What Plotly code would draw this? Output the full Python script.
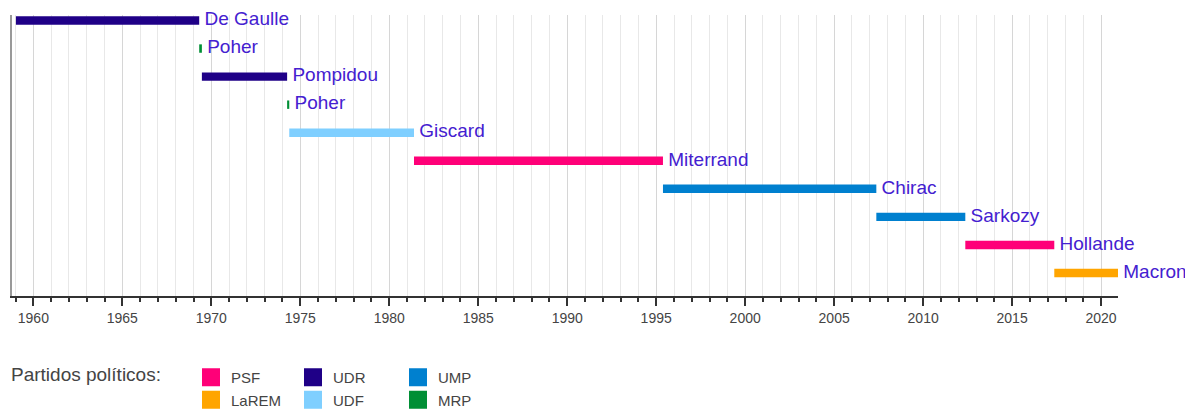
import plotly.graph_objects as go

# Presidentes da V República francesa
presidentes = ['De Gaulle', 'Poher', 'Pompidou', 'Poher', 'Giscard',
               'Miterrand', 'Chirac', 'Sarkozy', 'Hollande', 'Macron']
inicio = [1959.02, 1969.32, 1969.47, 1974.26, 1974.38,
          1981.39, 1995.38, 2007.37, 2012.37, 2017.37]
fim = [1969.32, 1969.47, 1974.26, 1974.38, 1981.39,
       1995.38, 2007.37, 2012.37, 2017.37, 2020.95]
partido = ['UDR', 'MRP', 'UDR', 'MRP', 'UDF',
           'PSF', 'UMP', 'UMP', 'PSF', 'LaREM']

# ordem da legenda: coluna por coluna
partidos = ['PSF', 'LaREM', 'UDR', 'UDF', 'UMP', 'MRP']
cores = {
    'PSF': '#ff0078',
    'LaREM': '#ffa500',
    'UDR': '#1f0087',
    'UDF': '#7fcfff',
    'UMP': '#0080cf',
    'MRP': '#008f35',
}
legenda_coluna = {'PSF': 'legend', 'LaREM': 'legend',
                  'UDR': 'legend2', 'UDF': 'legend2',
                  'UMP': 'legend3', 'MRP': 'legend3'}

# a página tem 8px de margem, então a figura fica um pouco menor
W, H = 1185, 401
linhas = list(range(len(presidentes)))

fig = go.Figure()

for p in partidos:
    idx = [i for i in linhas if partido[i] == p]
    fig.add_trace(go.Bar(
        orientation='h',
        y=[linhas[i] for i in idx],
        base=[inicio[i] for i in idx],
        x=[fim[i] - inicio[i] for i in idx],
        width=0.3,
        marker=dict(color=cores[p], line=dict(width=0)),
        showlegend=False,
        hoverinfo='skip',
    ))

# nomes ao lado das barras
fig.add_trace(go.Scatter(
    x=fim, y=linhas, mode='text', text=[' ' + n for n in presidentes],
    textposition='middle right',
    textfont=dict(family='Liberation Sans, Arial, sans-serif', size=19, color='#4420d0'),
    showlegend=False, hoverinfo='skip', cliponaxis=False,
))

# entradas da legenda (quadrados)
for p in partidos:
    fig.add_trace(go.Scatter(
        x=[None], y=[None], mode='markers', name=p,
        marker=dict(symbol='square', size=18, color=cores[p],
                    line=dict(width=2, color=cores[p])),
        legend=legenda_coluna[p], legendgroup=p,
    ))

leg_base = dict(
    xref='container', yref='container', yanchor='top', xanchor='left',
    orientation='v', itemsizing='trace', tracegroupgap=0,
    font=dict(family='Liberation Sans, Arial, sans-serif', size=15, color='#444'),
    bgcolor='rgba(0,0,0,0)',
)
fig.update_layout(
    legend=dict(leg_base, x=183 / W, y=1 - 353 / H),
    legend2=dict(leg_base, x=285 / W, y=1 - 353 / H),
    legend3=dict(leg_base, x=390 / W, y=1 - 353 / H),
)

fig.add_annotation(
    text='Partidos políticos:', xref='paper', yref='paper',
    x=-0.0025, y=-0.281, xanchor='left', yanchor='middle', showarrow=False,
    font=dict(family='Liberation Sans, Arial, sans-serif', size=19, color='#444'),
)

fig.update_layout(
    width=W, height=H,
    margin=dict(l=4, r=75, t=7, b=113, autoexpand=False),
    plot_bgcolor='white',
    paper_bgcolor='white',
    barmode='overlay',
    font=dict(family='Liberation Sans, Arial, sans-serif', color='#333'),
    xaxis=dict(
        range=[1958.8, 2020.95],
        tick0=1960, dtick=5,
        ticks='outside', ticklen=8, tickwidth=1.5, tickcolor='#333',
        showline=True, linecolor='#333', linewidth=1.5,
        showgrid=True, gridcolor='#d6d6d6', gridwidth=1,
        tickfont=dict(size=14, color='#444'),
        minor=dict(dtick=1, tick0=1960, ticks='outside', ticklen=4,
                   tickcolor='#333', showgrid=True, gridcolor='#e8e8e8'),
        zeroline=False,
        fixedrange=True,
    ),
    yaxis=dict(
        range=[9.82, -0.196],
        showticklabels=False, showgrid=False, zeroline=False,
        showline=True, linecolor='#999', linewidth=2,
        fixedrange=True,
    ),
)

fig.write_html('out.html')
